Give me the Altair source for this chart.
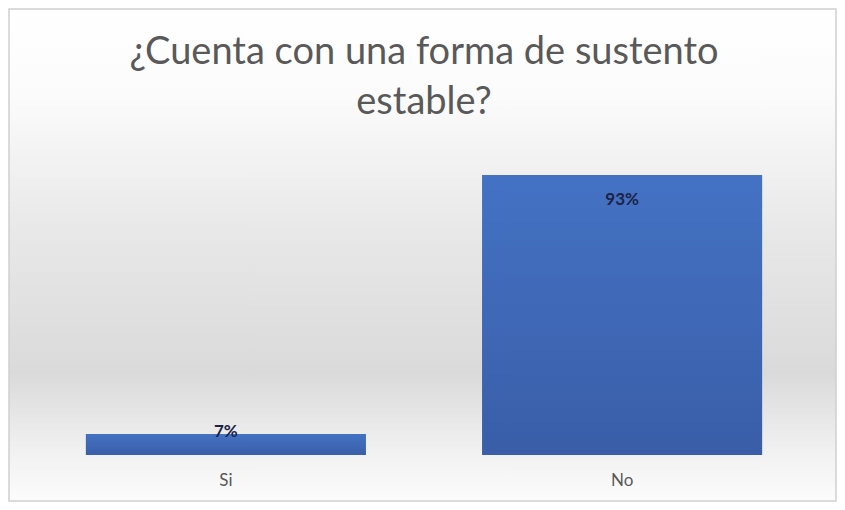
import altair as alt
import pandas as pd

categories = ["Si", "No"]
values = [0.07, 0.93]
labels = ["7%", "93%"]

df = pd.DataFrame({"cat": categories, "value": values, "label": labels})

W, H = 792, 301
L, T, R, B = 20, 146, 17, 47

bg_grad = alt.Gradient(
    gradient="linear", x1=0, y1=0, x2=0, y2=1,
    stops=[
        alt.GradientStop(offset=0.0, color="#ffffff"),
        alt.GradientStop(offset=0.18, color="#fbfbfb"),
        alt.GradientStop(offset=0.45, color="#e8e8e8"),
        alt.GradientStop(offset=0.74, color="#dadada"),
        alt.GradientStop(offset=0.9, color="#f1f1f1"),
        alt.GradientStop(offset=1.0, color="#fcfcfc"),
    ],
)
bar_grad = alt.Gradient(
    gradient="linear", x1=0, y1=0, x2=0, y2=1,
    stops=[
        alt.GradientStop(offset=0.0, color="#4472c4"),
        alt.GradientStop(offset=1.0, color="#3a5ea8"),
    ],
)

base = alt.Chart(df)

background = alt.Chart(pd.DataFrame({"d": [0]})).mark_rect(
    fill=bg_grad, stroke="#d0d0d0", strokeWidth=1.5
).encode(
    x=alt.value(-L + 1), x2=alt.value(W + R - 1),
    y=alt.value(-T + 1), y2=alt.value(H + B - 1),
)

x_enc = alt.X("cat:N", sort=categories, title=None,
              scale=alt.Scale(paddingInner=0.293, paddingOuter=0.146),
              axis=alt.Axis(labelAngle=0, domain=False, ticks=False,
                            labelColor="#595959", labelFont="Lato",
                            labelFontSize=17, labelPadding=17, zindex=2))
y_enc = alt.Y("value:Q", title=None, scale=alt.Scale(domain=[0, 1], nice=False),
              axis=None)

bars = base.mark_bar(fill=bar_grad).encode(x=x_enc, y=y_enc)

text_big = base.transform_filter(alt.datum.value > 0.5).mark_text(
    font="Lato", fontWeight="bold", fontSize=17, color="#1c2347",
    baseline="middle", dy=25
).encode(x=alt.X("cat:N", sort=categories), y="value:Q", text="label:N")

text_small = base.transform_filter(alt.datum.value <= 0.5).mark_text(
    font="Lato", fontWeight="bold", fontSize=17, color="#1c2347",
    baseline="middle", dy=-2
).encode(x=alt.X("cat:N", sort=categories), y="value:Q", text="label:N")

chart = alt.layer(background, bars, text_big, text_small).properties(
    width=W, height=H,
    autosize=alt.AutoSizeParams(type="none"),
    padding={"left": L, "top": T, "right": R, "bottom": B},
    title=alt.TitleParams(
        text=["¿Cuenta con una forma de sustento", "estable?"],
        font="Lato", fontSize=38, fontWeight="normal", color="#595959",
        anchor="middle", frame="group", offset=-114, lineHeight=50,
        zindex=2,
    ),
).configure_view(stroke=None).configure(background="white")

chart.save("out.html", embed_options={"renderer": "svg", "actions": False})
